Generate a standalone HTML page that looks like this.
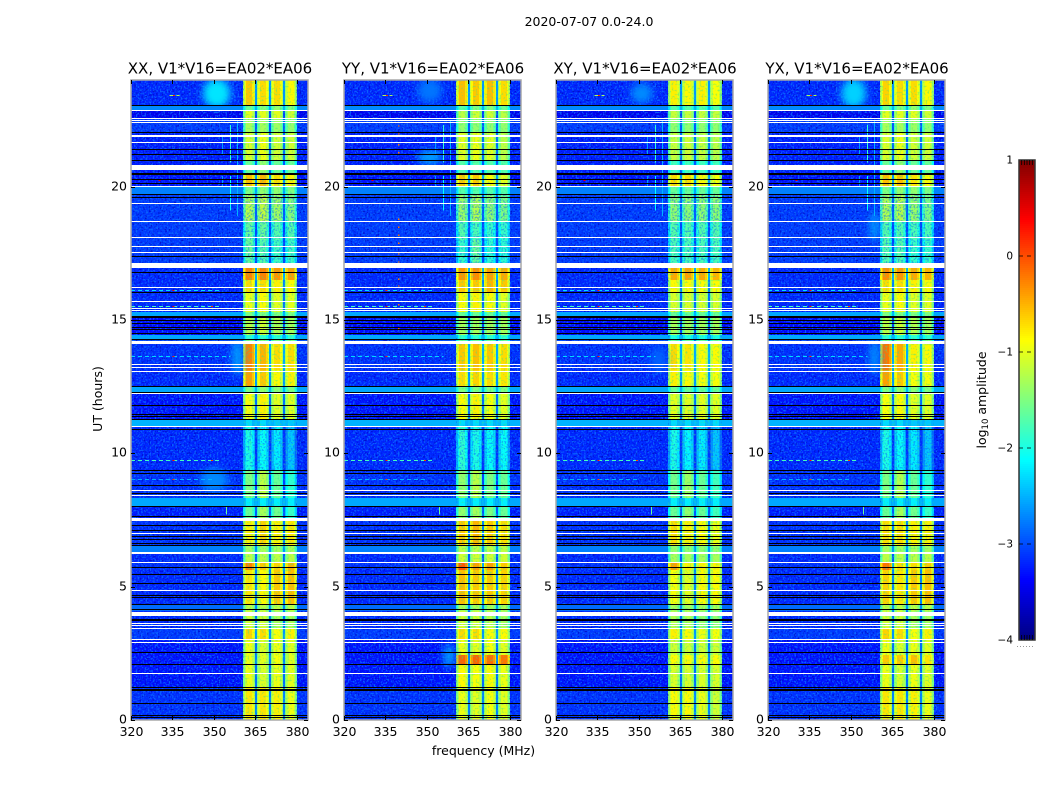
<!DOCTYPE html>
<html lang="en">
<head>
<meta charset="utf-8">
<title>2020-07-07 0.0-24.0</title>
<style>
html,body{margin:0;padding:0;background:#fff;width:1050px;height:800px;overflow:hidden}
svg{display:block}
text{font-family:"DejaVu Sans","Liberation Sans",sans-serif;fill:#000}
</style>
</head>
<body>
<svg id="chart" xmlns="http://www.w3.org/2000/svg" width="1050" height="800" viewBox="0 0 1050 800">
<defs id="defs">
<filter id="speckLight" x="0" y="0" width="100%" height="100%" color-interpolation-filters="sRGB"><feTurbulence type="fractalNoise" baseFrequency="0.58" numOctaves="1" seed="4"/><feColorMatrix type="matrix" values="0 0 0 0 0.04  0 0 0 0 0.42  0 0 0 0 1  6 0 0 0 -2.95"/></filter>
<filter id="speckDark" x="0" y="0" width="100%" height="100%" color-interpolation-filters="sRGB"><feTurbulence type="fractalNoise" baseFrequency="0.55" numOctaves="1" seed="11"/><feColorMatrix type="matrix" values="0 0 0 0 0  0 0 0 0 0  0 0 0 0 0.72  0 6 0 0 -3.4"/></filter>
<filter id="speckBand" x="0" y="0" width="100%" height="100%" color-interpolation-filters="sRGB"><feTurbulence type="fractalNoise" baseFrequency="0.5" numOctaves="1" seed="23"/><feColorMatrix type="matrix" values="0 0 0 0 0.2  0 0 0 0 0.9  0 0 0 0 0.55  4 0 0 0 -2.1"/></filter>
<filter id="softGlow" x="-60%" y="-60%" width="220%" height="220%"><feGaussianBlur stdDeviation="4"/></filter>
</defs>
<text x="589" y="26" font-size="12.5" text-anchor="middle">2020-07-07 0.0-24.0</text>
<text transform="translate(102,399) rotate(-90)" font-size="12.5" text-anchor="middle">UT (hours)</text>
<text x="483.5" y="755" font-size="12.5" text-anchor="middle">frequency (MHz)</text>
<text transform="translate(986,400) rotate(-90)" font-size="12.5" text-anchor="middle">log<tspan font-size="8.5" dy="2">10</tspan><tspan dy="-2"> amplitude</tspan></text>
<g id="panels"></g>
<g id="colorbar"></g>
</svg>
<script>
// Frequency channels (MHz): background, then four spectral windows with sloped edges, separated by gaps
const freqEdges = [320,360.6,361.1,361.6,363.8,364.3,364.8,365.6,366.1,366.6,368.9,369.4,369.9,370.6,371.1,371.6,374,374.5,375,375.7,376.2,376.7,378.9,379.4,379.9,384];
// Source of each column: 'bg', 'gap', or a spectral-window index
const freqColumnKinds = ['bg',0,0,0,0,0,'gap',1,1,1,1,1,'gap',2,2,2,2,2,'gap',3,3,3,3,3,'bg'];
// Bandpass roll-off (log10) of each column relative to the window centre
const freqColumnRolloff = [0,-.55,-.25,0,-.2,-.5,0,-.55,-.25,0,-.2,-.5,0,-.55,-.25,0,-.2,-.5,0,-.55,-.25,0,-.2,-.5,0];
// Time segments, top of plot to bottom (UT hours)
const rowTopHours = [24,23.04,22.88,22.58,22.05,21,20.44,20,19.74,18.68,18,17.14,16.5,16.05,15.3,15.15,14.44,14.29,14.1,13.13,12.53,12.3,11.4,11.29,11.03,9.38,8.33,8.04,7.5,6.56,6.3,5.93,5.63,4.35,4.09,3.45,3,2.45,2.1,1.2,0];
// log10 amplitude of the off-band background per time segment
const backgroundLevels = [-3.2,-2.7,-3.45,-3.1,-3.25,-3.25,-3.3,-2.75,-3.1,-3.1,-3.1,-3.2,-3.2,-3.2,-2.55,-3.35,-2.55,-3,-3.15,-3.2,-2.55,-3.3,-3.3,-2.5,-3.2,-3.15,-2.55,-3.25,-3.15,-2.75,-3.2,-3.15,-3.2,-2.85,-3.2,-3.1,-3.3,-3.3,-3.3,-3.15];
// log10 amplitude in the narrow gaps between spectral windows
const gapLevels = [-2.65,-2.5,-3.05,-2.95,-2.85,-2.95,-2.65,-2.6,-2.95,-3.05,-3.05,-2.55,-2.75,-2.85,-2.5,-3.05,-2.5,-2.85,-2.55,-2.65,-2.5,-2.85,-2.85,-2.45,-3.15,-3.05,-2.5,-2.95,-2.75,-2.65,-2.95,-2.55,-2.75,-2.7,-2.85,-2.65,-2.85,-2.75,-2.85,-2.75];

// Spectral-window levels per segment [w1,w2,w3,w4]
const bandsXX = [[-.6,-.7,-.7,-.85],[-1.6,-1.5,-1.4,-1.5],[-1,-1,-1,-1.1],[-1.3,-1.3,-1.35,-1.4],[-1.05,-.95,-1.1,-1.1],[-1.6,-1.4,-1.6,-1.6],[-.55,-.5,-.7,-.8],[-1.5,-1.4,-1.4,-1.5],[-1.2,-1.15,-1.3,-1.45],[-1.6,-1.6,-1.7,-1.7],[-1.6,-1.7,-1.8,-1.8],[-.25,-.25,-.35,-.4],[-.7,-.7,-.8,-.85],[-.95,-.85,-1,-1],[-1.5,-1.5,-1.5,-1.5],[-1.2,-1.1,-1.25,-1.3],[-1.9,-1.9,-1.9,-1.9],[-1.5,-1.5,-1.5,-1.5],[-.25,-.5,-.7,-.7],[-.4,-.6,-.85,-.8],[-1.5,-1.4,-1.45,-1.5],[-.9,-.8,-1,-1],[-.9,-.8,-1,-1],[-2.3,-2.3,-2.4,-2.4],[-2,-2.1,-2.2,-2.4],[-1.5,-1.2,-1.6,-1.9],[-2.2,-2.2,-2.2,-2.2],[-1.6,-1.3,-1.55,-1.85],[-.8,-.65,-.8,-.75],[-1.3,-1.3,-1.3,-1.3],[-1.2,-1.2,-1.2,-1.2],[-.25,-.6,-.65,-.5],[-.75,-.85,-.6,-.55],[-1.2,-1.2,-1.2,-1.2],[-1.1,-1.1,-1.3,-1.3],[-.65,-.7,-.9,-.8],[-.95,-1.05,-.95,-1],[-.95,-1,-.9,-1],[-.95,-1.05,-.95,-1],[-.75,-.75,-.8,-.95]];
const bandsYY = [[-.55,-.6,-.55,-.7],[-1.7,-1.5,-1.5,-1.6],[-1.2,-1.1,-1.1,-1.2],[-1.4,-1.4,-1.4,-1.4],[-1,-.95,-1,-1.2],[-1.7,-1.7,-1.7,-1.7],[-.6,-.6,-.85,-1],[-1.7,-1.7,-1.7,-1.7],[-1.35,-1.25,-1.4,-1.5],[-1.7,-1.75,-1.85,-1.85],[-1.85,-1.6,-1.9,-1.9],[-.35,-.3,-.4,-.45],[-.6,-.6,-.5,-.6],[-.85,-.8,-.85,-1],[-1.6,-1.6,-1.6,-1.6],[-1.3,-1.3,-1.3,-1.3],[-1.9,-1.9,-1.9,-1.9],[-1.6,-1.6,-1.6,-1.6],[-.6,-.55,-.6,-.7],[-.7,-.65,-.7,-.75],[-1.5,-1.5,-1.5,-1.5],[-.85,-.8,-.9,-1],[-.85,-.8,-.9,-1],[-2.3,-2.3,-2.3,-2.3],[-1.9,-2,-2.1,-2.1],[-1.4,-1.2,-1.5,-1.6],[-2.2,-2.2,-2.2,-2.2],[-1.4,-1.3,-1.5,-1.6],[-.6,-.5,-.6,-.7],[-1.2,-1.2,-1.2,-1.2],[-1.1,-1.1,-1.1,-1.1],[-.05,-.4,-.4,-.6],[-.55,-.6,-.6,-.65],[-1.3,-1.3,-1.3,-1.3],[-1.1,-1.1,-1.2,-1.3],[-.7,-.7,-.85,-.85],[-.95,-1,-.9,-1],[-.1,-.1,-.15,-.2],[-.85,-.9,-.85,-.95],[-.95,-1,-.9,-1]];
const bandsXY = [[-.8,-.85,-.8,-.9],[-1.7,-1.7,-1.7,-1.7],[-1.15,-1.15,-1.15,-1.15],[-1.4,-1.4,-1.4,-1.4],[-1.15,-1.1,-1.15,-1.2],[-1.8,-1.8,-1.8,-1.8],[-.7,-.7,-.85,-.9],[-1.6,-1.6,-1.6,-1.6],[-1.4,-1.4,-1.4,-1.4],[-1.7,-1.7,-1.7,-1.7],[-1.75,-1.75,-1.75,-1.75],[-.45,-.4,-.45,-.5],[-.85,-.85,-.85,-.85],[-1.05,-1.05,-1.05,-1.05],[-1.6,-1.6,-1.6,-1.6],[-1.3,-1.3,-1.3,-1.3],[-2,-2,-2,-2],[-1.6,-1.6,-1.6,-1.6],[-.7,-.75,-.85,-.85],[-.8,-.85,-.9,-.9],[-1.6,-1.6,-1.6,-1.6],[-1,-1,-1,-1],[-1,-1,-1,-1],[-2.3,-2.3,-2.3,-2.3],[-2,-2.15,-2.2,-2.4],[-1.55,-1.35,-1.6,-1.8],[-2.2,-2.2,-2.2,-2.2],[-1.6,-1.4,-1.6,-1.8],[-.7,-.8,-.85,-.95],[-1.4,-1.4,-1.4,-1.4],[-1.3,-1.3,-1.3,-1.3],[-.4,-.8,-.8,-.8],[-.9,-1,-.85,-.85],[-1.3,-1.3,-1.3,-1.3],[-1.25,-1.25,-1.4,-1.4],[-.8,-.85,-.95,-.9],[-1.1,-1.1,-1.1,-1.1],[-.85,-.85,-.85,-.85],[-1.05,-1.05,-1.05,-1.05],[-.85,-.85,-.95,-1.1]];
const bandsYX = [[-.65,-.7,-.7,-.85],[-1.6,-1.5,-1.4,-1.5],[-1,-1,-1,-1.1],[-1.3,-1.3,-1.35,-1.4],[-1.05,-.95,-1.1,-1.1],[-1.6,-1.4,-1.6,-1.6],[-.55,-.55,-.75,-.85],[-1.5,-1.4,-1.4,-1.5],[-1.25,-1.2,-1.35,-1.5],[-1.7,-1.7,-1.75,-1.75],[-1.7,-1.7,-1.85,-1.85],[-.3,-.35,-.45,-.5],[-.7,-.7,-.8,-.85],[-.95,-.85,-1,-1],[-1.5,-1.5,-1.5,-1.5],[-1.2,-1.1,-1.25,-1.3],[-1.9,-1.9,-1.9,-1.9],[-1.5,-1.5,-1.5,-1.5],[-.2,-.45,-.8,-.85],[-.4,-.6,-.9,-.9],[-1.5,-1.4,-1.45,-1.5],[-.9,-.85,-1,-1],[-.9,-.85,-1,-1],[-2.3,-2.3,-2.4,-2.4],[-2,-2.1,-2.2,-2.4],[-1.5,-1.25,-1.6,-1.9],[-2.2,-2.2,-2.2,-2.2],[-1.6,-1.3,-1.55,-1.85],[-.7,-.7,-.8,-.8],[-1.3,-1.3,-1.3,-1.3],[-1.2,-1.2,-1.2,-1.2],[-.2,-.7,-.7,-.6],[-.65,-.75,-.6,-.55],[-1.2,-1.2,-1.2,-1.2],[-1.1,-1.1,-1.3,-1.3],[-.65,-.7,-.9,-.8],[-.95,-1.05,-.95,-1],[-.6,-.6,-.55,-.75],[-.95,-1.05,-.95,-1],[-.75,-.75,-.8,-.95]];

// Soft emission patches: [centre MHz, centre hour, radius MHz, radius hours, level]
const glowXX = [[351,23.5,5,.55,-2.25],[350,9,5,.45,-2.7],[358.5,13.6,2,.7,-2.6]];
const glowYY = [[351,23.6,4.5,.45,-2.8],[351,21.1,4.5,.28,-2.6],[358,2.4,2,.45,-2.6]];
const glowXY = [[351,23.5,4,.38,-2.7],[357,13.5,3,.5,-2.9]];
const glowYX = [[351,23.5,4.5,.55,-2.35],[358.5,13.6,2,.65,-2.7],[358.5,18.5,1.6,.55,-2.6]];

// Flagged (blank) time ranges [top hour, bottom hour]
const blankRanges = [[22.88,22.84],[22.58,22.54],[22.5,22.46],[22.43,22.39],[21.94,21.86],[21.68,21.64],[20.81,20.63],[20.03,19.97],[19.39,19.35],[18.71,18.68],[18.11,18.08],[17.78,17.74],[17.55,17.51],[17.14,16.95],[16.24,16.2],[15.71,15.68],[15.45,15.41],[15.38,15.34],[14.23,14.1],[13.35,13.31],[13.24,13.2],[13.09,13.05],[12.26,12.23],[11.03,10.99],[8.63,8.59],[8.44,8.4],[8.03,7.99],[7.59,7.48],[7.01,6.98],[6.3,6.23],[5.93,5.89],[4.86,4.82],[4.05,3.9],[3.64,3.6],[3.56,3.53],[3.45,3.41],[3.04,3],[2.93,2.89],[1.76,1.73]];
// Zero-amplitude (black) integrations, UT hours
const zeroHours = [23.06,22.05,21.41,21.23,21,20.5,20.46,20.29,20.14,19.73,19.61,17.4,16.8,16.05,15.15,15.11,15,14.89,14.74,14.66,14.51,14.29,12.53,12.3,11.81,11.48,11.4,11.29,10.91,9.38,9.26,8.81,8.51,8.03,7.65,7.31,7.13,6.9,6.79,6.62,6.58,5.74,5.48,5.14,4.69,4.61,4.35,4.16,3.79,3.75,2.55,2.1,1.22,1.18,1.14,.64,.19,.11];
// Narrow-band interference across time: [MHz, top hour, bottom hour, level]
const rfiColumns = [[355.8,22.31,20.9,-1.9],[355.8,20.4,19.1,-2.1],[358.4,22.5,18.9,-2.5],[353,21.9,21.2,-2.6],[353,20.4,20,-2.6],[354.3,8,7.7,-1.6]];
// Interference across frequency: [hour, start MHz, end MHz, level]
const rfiRows = [[23.45,334,337.5,-1.3],[16.12,320,352,-2.3],[15.52,320,352,-1.8],[14.74,320,352,-2.4],[13.66,320,356,-2.3],[9.75,320,352,-1.8],[9.04,320,350,-2.5]];
// Strong interference spots: [hour, MHz, level]
const rfiSpots = [[23.45,335.2,.2],[16.12,335,.3],[15.52,335,.4],[13.66,335,.3],[9.75,335,.35],[9.75,349,.1],[15.52,349,.1],[9.04,335,.1],[20.25,330,.5],[20.5,330,.5]];
// Extra spots seen only in the YY panel near 339.5 MHz, UT hours
const yySpotHours = [22.3,22,21.6,21.3,20.5,18.8,18.5,18.2,17.9,17.5,17.2,16.55,16.3,15.6,14.7];
// Segments whose weak windows look mottled rather than solid
const mottledBandRows = [8,9,10,24];

const freqTicks = [320,335,350,365,380];
const hourTicks = [0,5,10,15,20];
const colorTicks = [1,0,-1,-2,-3,-4];
const panelNames = ['XX','YY','XY','YX'];
const panelBands = [bandsXX,bandsYY,bandsXY,bandsYX];
const panelGlow = [glowXX,glowYY,glowXY,glowYX];

const NS = 'http://www.w3.org/2000/svg';
const panelLefts = [131,344,556,768];
const plotTop = 80, plotH = 640, plotW = 177, cbLeft = 1019, cbW = 16, cbTop = 160, cbH = 480;
const yScale = h => plotTop + (24 - h) / 24 * plotH;
const vScale = v => cbTop + (1 - v) / 5 * cbH;
const clip01 = a => Math.max(0, Math.min(1, a));
function levelColor(v){
  const t = clip01((v + 4) / 5);
  const c = k => Math.round(255 * clip01(1.5 - Math.abs(4 * t - k)));
  return 'rgb(' + c(3) + ',' + c(2) + ',' + c(1) + ')';
}
function make(tag, parent, attrs){
  const el = document.createElementNS(NS, tag);
  for (const k in attrs) el.setAttribute(k, attrs[k]);
  parent.appendChild(el);
  return el;
}
const panelsRoot = document.getElementById('panels');
const defs = document.getElementById('defs');

panelNames.forEach((name, p) => {
  const left = panelLefts[p];
  const xScale = mhz => left + (mhz - 320) / 64 * plotW;
  const g = make('g', panelsRoot, {});
  
  
  const bands = panelBands[p];

  const clip = make('clipPath', defs, {id:'plotClip' + name});
  make('rect', clip, {x:left, y:plotTop, width:plotW, height:plotH});

  const cellRect = (parent, r, c) => {
    const kind = freqColumnKinds[c];
    let v;
    if (kind === 'bg') v = backgroundLevels[r];
    else if (kind === 'gap') v = gapLevels[r];
    else v = Math.max(backgroundLevels[r], bands[r][kind] + freqColumnRolloff[c]);
    const x0 = Math.round(xScale(freqEdges[c])), x1 = Math.round(xScale(freqEdges[c + 1]));
    const y0 = Math.round(yScale(rowTopHours[r])), y1 = Math.round(yScale(rowTopHours[r + 1]));
    return make('rect', parent, {x:x0, y:y0, width:x1 - x0, height:y1 - y0, fill:levelColor(v)});
  };

  // heatmap cells
  const cells = make('g', g, {'shape-rendering':'crispEdges'});
  
  
  for (let r = 0; r < rowTopHours.length - 1; r++){
    for (let c = 0; c < freqColumnKinds.length; c++){
      const cell = cellRect(cells, r, c);
      
      
    }
  }

  // speckle texture (visual style only, not data)
  const tex = make('g', g, {});
  
  
  [[320,360.6],[379.9,384]].forEach(span => {
    make('rect', tex, {x:xScale(span[0]), y:plotTop, width:xScale(span[1]) - xScale(span[0]), height:plotH, fill:'#fff', filter:'url(#speckLight)', opacity:.85});
    make('rect', tex, {x:xScale(span[0]), y:plotTop, width:xScale(span[1]) - xScale(span[0]), height:plotH, fill:'#fff', filter:'url(#speckDark)', opacity:.7});
  });
  make('rect', tex, {x:xScale(360.6), y:plotTop, width:xScale(379.9) - xScale(360.6), height:plotH, fill:'#fff', filter:'url(#speckBand)', opacity:.5});
  mottledBandRows.forEach(r => {
    make('rect', tex, {x:xScale(360.6), y:yScale(rowTopHours[r]), width:xScale(379.9) - xScale(360.6), height:yScale(rowTopHours[r + 1]) - yScale(rowTopHours[r]), fill:'#fff', filter:'url(#speckLight)', opacity:.55});
  });

  // soft emission patches
  const glows = make('g', g, {'clip-path':'url(#plotClip' + name + ')'});
  
  
  panelGlow[p].forEach(d => {
    const e = make('ellipse', glows, {cx:xScale(d[0]), cy:yScale(d[1]), rx:d[2] / 64 * plotW, ry:d[3] / 24 * plotH, fill:levelColor(d[4]), filter:'url(#softGlow)'});
    
    
  });

  // brighter smooth segments sit above the speckle
  const smooth = make('g', g, {'shape-rendering':'crispEdges'});
  
  
  for (let r = 0; r < rowTopHours.length - 1; r++){
    if (backgroundLevels[r] > -2.9){
      [0, freqColumnKinds.length - 1].forEach(c => {
        const cell = cellRect(smooth, r, c);
        
        
      });
    }
  }

  // interference
  const rfi = make('g', g, {'shape-rendering':'crispEdges'});
  
  
  rfiColumns.forEach(d => {
    const m = make('rect', rfi, {x:Math.round(xScale(d[0])), y:yScale(d[1]), width:1, height:yScale(d[2]) - yScale(d[1]), fill:levelColor(d[3])});
    
    
  });
  rfiRows.forEach(d => {
    const y = Math.round(yScale(d[0])) + .5;
    const m = make('line', rfi, {x1:xScale(d[1]), x2:xScale(d[2]), y1:y, y2:y, stroke:levelColor(d[3]), 'stroke-dasharray':'4 3'});
    
    
  });
  rfiSpots.forEach(d => {
    const m = make('rect', rfi, {x:xScale(d[1]), y:Math.round(yScale(d[0])), width:2, height:1, fill:levelColor(d[2])});
    
    
  });
  if (name === 'YY') yySpotHours.forEach(h => {
    const m = make('rect', rfi, {x:xScale(339.5), y:yScale(h), width:1.4, height:1.4, fill:levelColor(-.2)});
    
    
  });

  // flagged rows
  const flags = make('g', g, {'shape-rendering':'crispEdges'});
  
  
  blankRanges.forEach(d => {
    const y0 = Math.round(yScale(d[0])), y1 = Math.round(yScale(d[1]));
    const m = make('rect', flags, {x:left, y:y0, width:plotW, height:Math.max(1, y1 - y0), fill:'#fff'});
    
    
  });
  zeroHours.forEach(h => {
    const m = make('rect', flags, {x:left, y:Math.round(yScale(h)), width:plotW, height:1, fill:'#000'});
    
    
  });

  // frame
  const frame = make('rect', g, {x:left, y:plotTop, width:plotW, height:plotH, fill:'none', stroke:'#a8a8a8', 'stroke-width':1.5});
  
  

  // ticks & labels
  freqTicks.forEach(f => {
    const x = Math.round(xScale(f)) + .5;
    const t1 = make('line', g, {x1:x, x2:x, y1:plotTop, y2:plotTop + 4, stroke:'#000'});
    
    
    const t2 = make('line', g, {x1:x, x2:x, y1:plotTop + plotH - 4, y2:plotTop + plotH, stroke:'#000'});
    
    
    const l = make('text', g, {x:x, y:736, 'font-size':12.5, 'text-anchor':'middle'});
    l.textContent = f;
    
    
  });
  hourTicks.forEach(h => {
    const y = Math.round(yScale(h)) + .5;
    const t1 = make('line', g, {x1:left, x2:left + 4, y1:y, y2:y, stroke:'#000'});
    
    
    const t2 = make('line', g, {x1:left + plotW - 4, x2:left + plotW, y1:y, y2:y, stroke:'#000'});
    
    
    const l = make('text', g, {x:left - 4, y:y + 3, 'font-size':12.5, 'text-anchor':'end'});
    l.textContent = h;
    
    
  });

  const title = make('text', g, {x:left + plotW / 2 + .5, y:73.5, 'font-size':15, 'text-anchor':'middle'});
  title.textContent = name + ', V1*V16=EA02*EA06';
  
  
});

// colorbar
const cb = document.getElementById('colorbar');
const ramp = make('g', cb, {'shape-rendering':'crispEdges'});


for (let y = 0; y < cbH; y += 2){
  const v = 1 - (y + 1) / cbH * 5;
  const s = make('rect', ramp, {x:cbLeft, y:cbTop + y, width:cbW, height:2, fill:levelColor(v)});
  
  
}
const cbFrame = make('rect', cb, {x:cbLeft, y:cbTop, width:cbW, height:cbH, fill:'none', stroke:'#333', 'stroke-width':1.5});


colorTicks.forEach(v => {
  const y = vScale(v);
  if (v < 1 && v > -4){
    const d = make('line', cb, {x1:cbLeft, x2:cbLeft + cbW, y1:y, y2:y, stroke:'#000', 'stroke-dasharray':'4 4', 'stroke-width':.8});
    
    
  } else {
    for (let i = 1; i < 6; i++){
      const x = cbLeft + i * cbW / 6;
      const m = make('line', cb, {x1:x, x2:x, y1:v === 1 ? cbTop : cbTop + cbH - 5, y2:v === 1 ? cbTop + 5 : cbTop + cbH, stroke:'#000', 'stroke-width':.8});
      
      
    }
  }
  const l = make('text', cb, {x:1013, y:y + 3.5, 'font-size':10.5, 'text-anchor':'end'});
  l.textContent = v < 0 ? '\u2212' + Math.abs(v) : v;
  
  
});
const cbDots = make('line', cb, {x1:1017, x2:1035, y1:646.5, y2:646.5, stroke:'#999', 'stroke-dasharray':'1 2'});


</script>
</body>
</html>
